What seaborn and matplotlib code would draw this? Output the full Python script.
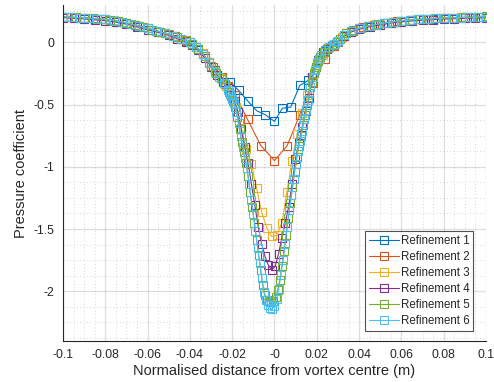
import numpy as np
import pandas as pd
import matplotlib
matplotlib.use("Agg")
import matplotlib.pyplot as plt
from matplotlib.ticker import MultipleLocator, FuncFormatter
import seaborn as sns

# MATLAB default line colours
colours = ["#0072BD", "#D95319", "#EDB120", "#7E2F8E", "#77AC30", "#4DBEEE"]
labels = ["Refinement 1", "Refinement 2", "Refinement 3",
          "Refinement 4", "Refinement 5", "Refinement 6"]

# --- data: normalised distance and pressure coefficient ---
x_ref1 = [-0.1, -0.095, -0.09, -0.085, -0.08, -0.075, -0.07, -0.065, -0.06,
          -0.056, -0.052, -0.048, -0.044, -0.04, -0.037, -0.034, -0.031,
          -0.028, -0.025, -0.021, -0.017, -0.0127, -0.0084, -0.0045, 0.0,
          0.0037, 0.0077, 0.012, 0.016, 0.0207, 0.024, 0.027, 0.030, 0.033,
          0.036, 0.040, 0.044, 0.048, 0.052, 0.056, 0.06, 0.065, 0.07, 0.075,
          0.08, 0.085, 0.09, 0.095, 0.1]
cp_ref1 = [0.205, 0.200, 0.196, 0.190, 0.184, 0.172, 0.156, 0.135, 0.112,
           0.093, 0.075, 0.053, 0.027, 0.000, -0.040, -0.090, -0.160,
           -0.225, -0.290, -0.320, -0.385, -0.470, -0.550, -0.580, -0.635,
           -0.530, -0.520, -0.345, -0.305, -0.140, -0.070, -0.030, 0.010,
           0.055, 0.085, 0.112, 0.130, 0.143, 0.156, 0.165, 0.173, 0.181,
           0.186, 0.191, 0.195, 0.198, 0.200, 0.202, 0.205]

x_ref2 = [-0.1, -0.094, -0.088, -0.082, -0.076, -0.07, -0.064, -0.058, -0.052,
          -0.047, -0.042, -0.037, -0.033, -0.029, -0.025, -0.0219, -0.0187,
          -0.0127, -0.0065, 0.0, 0.006, 0.012, 0.018, 0.024, 0.028, 0.032,
          0.037, 0.042, 0.047, 0.052, 0.058, 0.064, 0.07, 0.076, 0.082, 0.088,
          0.094, 0.1]
cp_ref2 = [0.205, 0.199, 0.194, 0.187, 0.175, 0.156, 0.130, 0.102, 0.075,
           0.047, 0.014, -0.040, -0.110, -0.200, -0.280, -0.350, -0.420,
           -0.620, -0.830, -0.950, -0.830, -0.580, -0.330, -0.130, -0.030,
           0.040, 0.095, 0.122, 0.140, 0.156, 0.169, 0.179, 0.186, 0.192,
           0.196, 0.199, 0.202, 0.205]

x_ref3 = [-0.1, -0.096, -0.092, -0.088, -0.084, -0.08, -0.076, -0.072, -0.068,
          -0.064, -0.06, -0.056, -0.052, -0.048, -0.044, -0.04, -0.037, -0.034,
          -0.031, -0.028, -0.0253, -0.0229, -0.0205, -0.0181, -0.0157, -0.0133,
          -0.0109, -0.0085, -0.0061, -0.0037, -0.0013, 0.0011, 0.0035, 0.0059,
          0.0083, 0.0107, 0.0131, 0.0155, 0.0179, 0.0203, 0.0227, 0.0255,
          0.0285, 0.032, 0.036, 0.04, 0.044, 0.048, 0.052, 0.056, 0.06, 0.064,
          0.068, 0.072, 0.076, 0.08, 0.084, 0.088, 0.092, 0.096, 0.1]
cp_ref3 = [0.206, 0.201, 0.198, 0.195, 0.189, 0.185, 0.176, 0.164, 0.149,
           0.131, 0.113, 0.094, 0.076, 0.054, 0.028, 0.001, -0.038, -0.088,
           -0.160, -0.230, -0.290, -0.350, -0.420, -0.520, -0.690, -0.860,
           -0.980, -1.170, -1.360, -1.490, -1.560, -1.550, -1.450, -1.200,
           -0.950, -0.740, -0.570, -0.420, -0.280, -0.170, -0.100, -0.045,
           -0.010, 0.046, 0.091, 0.113, 0.131, 0.144, 0.157, 0.166, 0.174,
           0.180, 0.185, 0.189, 0.193, 0.196, 0.198, 0.200, 0.202, 0.204, 0.206]

x_ref4 = [-0.1, -0.095, -0.09, -0.085, -0.08, -0.075, -0.07, -0.065, -0.06,
          -0.055, -0.05, -0.046, -0.042, -0.039, -0.036, -0.033, -0.030,
          -0.027, -0.0245, -0.0221, -0.0205, -0.0189, -0.0173, -0.0157,
          -0.0141, -0.0125, -0.0109, -0.0093, -0.0077, -0.0061, -0.0045,
          -0.0029, -0.0013, 0.0003, 0.0019, 0.0035, 0.0051, 0.0067, 0.0083,
          0.0099, 0.0115, 0.0131, 0.0147, 0.0163, 0.0179, 0.0195, 0.0211,
          0.0227, 0.025, 0.0275, 0.030, 0.033, 0.036, 0.040, 0.045, 0.050,
          0.055, 0.060, 0.065, 0.070, 0.075, 0.080, 0.085, 0.090, 0.095, 0.1]
cp_ref4 = [0.198, 0.193, 0.188, 0.181, 0.175, 0.163, 0.146, 0.125, 0.101,
           0.080, 0.055, 0.030, 0.004, -0.025, -0.065, -0.125, -0.195,
           -0.265, -0.320, -0.370, -0.420, -0.470, -0.560, -0.700, -0.840,
           -0.970, -1.140, -1.310, -1.480, -1.620, -1.720, -1.790, -1.830,
           -1.800, -1.700, -1.570, -1.450, -1.320, -1.140, -0.940, -0.810,
           -0.680, -0.550, -0.450, -0.280, -0.195, -0.130, -0.080, -0.055,
           -0.025, 0.005, 0.050, 0.082, 0.105, 0.125, 0.140, 0.155, 0.165,
           0.172, 0.178, 0.183, 0.187, 0.190, 0.193, 0.195, 0.197]

x_ref5 = [-0.1, -0.098, -0.094, -0.09, -0.086, -0.082, -0.078, -0.074, -0.07,
          -0.066, -0.062, -0.058, -0.054, -0.05, -0.046, -0.042, -0.039,
          -0.036, -0.033, -0.030, -0.0275, -0.025, -0.0235, -0.0215, -0.0205,
          -0.0195, -0.0185, -0.0175, -0.0165, -0.0155, -0.0145, -0.0135,
          -0.0125, -0.0115, -0.0105, -0.0095, -0.0085, -0.0075, -0.0065,
          -0.0055, -0.0045, -0.0035, -0.0025, -0.0015, -0.0005, 0.0005, 0.0015,
          0.0025, 0.0035, 0.0045, 0.0055, 0.0065, 0.0075, 0.0085, 0.0095,
          0.0105, 0.0115, 0.0125, 0.0135, 0.0145, 0.0155, 0.0165, 0.0175,
          0.0185, 0.0195, 0.0205, 0.0215, 0.0235, 0.0255, 0.0275, 0.0295,
          0.031, 0.034, 0.037, 0.041, 0.045, 0.049, 0.053, 0.057, 0.061, 0.065,
          0.069, 0.073, 0.077, 0.081, 0.085, 0.089, 0.093, 0.097, 0.1]
cp_ref5 = [0.207, 0.204, 0.200, 0.197, 0.192, 0.188, 0.181, 0.170, 0.157,
           0.141, 0.122, 0.103, 0.085, 0.066, 0.041, 0.015, -0.012, -0.052,
           -0.112, -0.188, -0.245, -0.298, -0.335, -0.400, -0.430, -0.470,
           -0.520, -0.600, -0.700, -0.800, -0.885, -0.970, -1.075, -1.205,
           -1.325, -1.450, -1.585, -1.710, -1.830, -1.950, -2.030, -2.070,
           -2.080, -2.085, -2.075, -2.050, -1.990, -1.910, -1.800, -1.680,
           -1.550, -1.410, -1.290, -1.165, -1.040, -0.925, -0.830, -0.750,
           -0.665, -0.580, -0.500, -0.410, -0.320, -0.250, -0.195, -0.150,
           -0.120, -0.075, -0.043, -0.020, 0.002, 0.028, 0.072, 0.096, 0.117,
           0.134, 0.147, 0.159, 0.167, 0.175, 0.181, 0.185, 0.189, 0.193,
           0.196, 0.198, 0.200, 0.202, 0.205, 0.210]

x_ref6 = [-0.1, -0.096, -0.092, -0.088, -0.084, -0.08, -0.076, -0.072, -0.068,
          -0.064, -0.06, -0.056, -0.052, -0.048, -0.044, -0.04, -0.037, -0.034,
          -0.031, -0.028, -0.026, -0.024, -0.022, -0.021, -0.020, -0.019,
          -0.018, -0.017, -0.016, -0.015, -0.014, -0.013, -0.012, -0.011,
          -0.010, -0.009, -0.008, -0.007, -0.006, -0.005, -0.004, -0.003,
          -0.002, -0.001, 0.0, 0.001, 0.002, 0.003, 0.004, 0.005, 0.006, 0.007,
          0.008, 0.009, 0.010, 0.011, 0.012, 0.013, 0.014, 0.015, 0.016, 0.017,
          0.018, 0.019, 0.020, 0.021, 0.022, 0.024, 0.026, 0.028, 0.030, 0.033,
          0.036, 0.040, 0.044, 0.048, 0.052, 0.056, 0.060, 0.064, 0.068, 0.072,
          0.076, 0.080, 0.084, 0.088, 0.092, 0.096, 0.1]
cp_ref6 = [0.205, 0.201, 0.198, 0.194, 0.189, 0.184, 0.175, 0.163, 0.148,
           0.130, 0.112, 0.093, 0.075, 0.053, 0.027, 0.000, -0.040, -0.090,
           -0.165, -0.235, -0.278, -0.325, -0.380, -0.415, -0.452, -0.490,
           -0.560, -0.650, -0.750, -0.840, -0.930, -1.010, -1.140, -1.270,
           -1.380, -1.520, -1.650, -1.770, -1.890, -2.010, -2.070, -2.110,
           -2.135, -2.140, -2.120, -2.060, -1.980, -1.870, -1.750, -1.620,
           -1.480, -1.350, -1.230, -1.100, -0.980, -0.870, -0.790, -0.710,
           -0.620, -0.540, -0.460, -0.360, -0.280, -0.220, -0.170, -0.135,
           -0.105, -0.065, -0.037, -0.013, 0.010, 0.058, 0.090, 0.112, 0.130,
           0.143, 0.156, 0.165, 0.173, 0.179, 0.184, 0.188, 0.192, 0.195,
           0.197, 0.199, 0.201, 0.203, 0.205]

series = [(x_ref1, cp_ref1), (x_ref2, cp_ref2), (x_ref3, cp_ref3),
          (x_ref4, cp_ref4), (x_ref5, cp_ref5), (x_ref6, cp_ref6)]

# --- style ---
sns.set_style("white")
plt.rcParams["font.family"] = ["Liberation Sans", "DejaVu Sans"]
plt.rcParams["axes.unicode_minus"] = False
axis_grey = "#262626"

fig = plt.figure(figsize=(4.94, 3.82), dpi=100)
ax = fig.add_axes([0.1275, 0.1073, 0.8563, 0.8796])

for (xs, cps), colour, lab in zip(series, colours, labels):
    df = pd.DataFrame({"x": xs, "cp": cps})
    sns.lineplot(data=df, x="x", y="cp", ax=ax, color=colour, marker="s",
                 markersize=5.5, mec=colour, mfc="none", mew=0.8, lw=0.8,
                 label=lab, sort=False, errorbar=None)

ax.set_xlim(-0.1, 0.1)
ax.set_ylim(-2.4, 0.3)
ax.xaxis.set_major_locator(MultipleLocator(0.02))
ax.xaxis.set_minor_locator(MultipleLocator(0.005))
ax.yaxis.set_major_locator(MultipleLocator(0.5))
ax.yaxis.set_minor_locator(MultipleLocator(0.125))
fmt = FuncFormatter(lambda v, pos: "{:g}".format(round(v, 6)))
ax.xaxis.set_major_formatter(fmt)
ax.yaxis.set_major_formatter(fmt)

ax.grid(which="major", color=axis_grey, alpha=0.15, lw=0.9)
ax.grid(which="minor", color=axis_grey, alpha=0.25, lw=0.6, ls=(0, (1, 3)))
ax.set_axisbelow(True)

ax.tick_params(which="major", direction="in", length=3.5, width=0.6,
               colors=axis_grey, labelsize=8.8, pad=6)
ax.tick_params(which="minor", length=0)
for side in ["top", "right"]:
    ax.spines[side].set_visible(False)
for side in ["left", "bottom"]:
    ax.spines[side].set_color(axis_grey)
    ax.spines[side].set_linewidth(0.8)

ax.set_xlabel("Normalised distance from vortex centre (m)", fontsize=10.5,
              color=axis_grey, labelpad=2)
ax.set_ylabel("Pressure coefficient", fontsize=10.5, color=axis_grey,
              labelpad=4)

leg = ax.legend(loc="lower right", bbox_to_anchor=(0.97, 0.03), frameon=True,
                fancybox=False, edgecolor=axis_grey, fontsize=8.3,
                handlelength=2.6, handletextpad=0.2, labelspacing=0.36,
                borderpad=0.3, borderaxespad=0.0)
leg.get_frame().set_linewidth(0.8)
for t in leg.get_texts():
    t.set_color(axis_grey)

fig.savefig("out.png", dpi=100)
